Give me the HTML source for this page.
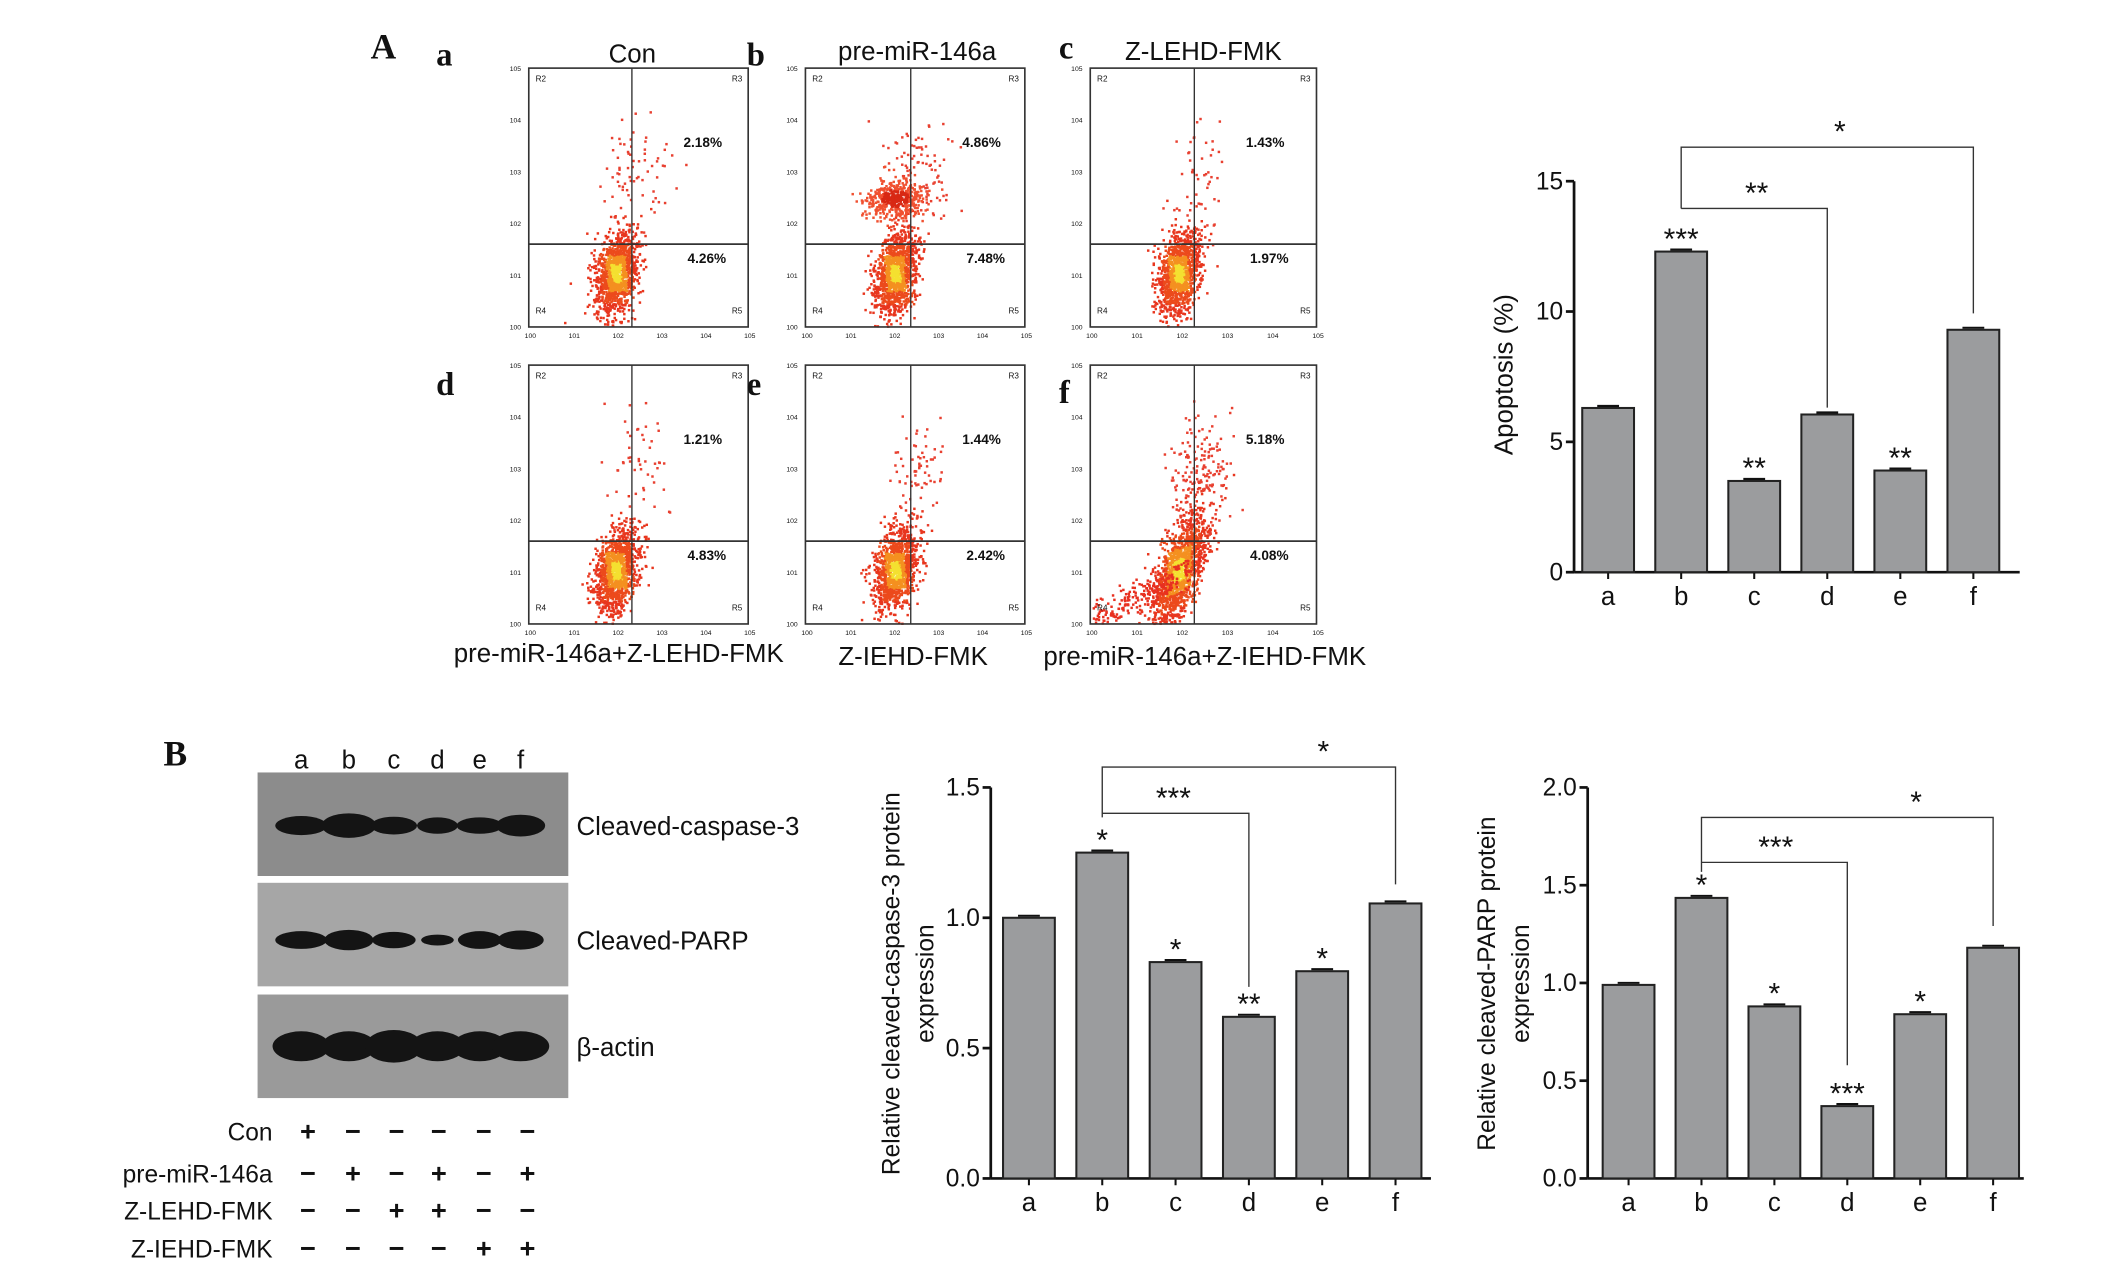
<!DOCTYPE html>
<html><head><meta charset="utf-8"><style>
html,body{margin:0;padding:0;background:#fff;}
svg{display:block;}
text{font-family:"Liberation Sans",sans-serif;fill:#111;}
.L{font-family:"Liberation Serif",serif;font-weight:bold;}
</style></head><body>
<svg id="fig" width="2126" height="1267" viewBox="0 0 1560 930" preserveAspectRatio="none" xmlns="http://www.w3.org/2000/svg">
<g id="flow"></g>
<g id="blot"></g>
<g id="chartA"></g>
<g id="chartB1"></g>
<g id="chartB2"></g>
</svg>
<script>
// ---- chart data ----
const categories = ['a','b','c','d','e','f'];
const apoptosisValues = [6.3, 12.3, 3.5, 6.05, 3.9, 9.3];
const apoptosisStars = ['', '***', '**', '', '**', ''];
const apoptosisTicks = [0, 5, 10, 15];
const caspaseValues = [1.0, 1.25, 0.83, 0.62, 0.795, 1.055];
const caspaseStars = ['', '*', '*', '**', '*', ''];
const caspaseTicks = ['0.0', '0.5', '1.0', '1.5'];
const parpValues = [0.99, 1.435, 0.88, 0.37, 0.84, 1.18];
const parpStars = ['', '*', '*', '***', '*', ''];
const parpTicks = ['0.0', '0.5', '1.0', '1.5', '2.0'];
const flowLabels = ['a','b','c','d','e','f'];
const flowTitles = ['Con','pre-miR-146a','Z-LEHD-FMK','pre-miR-146a+Z-LEHD-FMK','Z-IEHD-FMK','pre-miR-146a+Z-IEHD-FMK'];
const flowUpper = ['2.18%','4.86%','1.43%','1.21%','1.44%','5.18%'];
const flowLower = ['4.26%','7.48%','1.97%','4.83%','2.42%','4.08%'];

const NS='http://www.w3.org/2000/svg';
function mk(parent, tag, attrs, txt){
  const e=document.createElementNS(NS,tag);
  for(const k in attrs) e.setAttribute(k,attrs[k]);
  if(txt!==undefined) e.textContent=txt;
  parent.appendChild(e); return e;
}
const svg=document.getElementById('fig');
let t=mk(svg,'text',{x:272,y:43,'font-size':26,class:'L'},'A');


t=mk(svg,'text',{x:120,y:562,'font-size':26,class:'L'},'B');



// ---- flow panels ----
let seed=7;
function rnd(){seed=(seed*16807)%2147483647;return seed/2147483647;}
function gauss(){return Math.sqrt(-2*Math.log(rnd()+1e-9))*Math.cos(2*Math.PI*rnd());}
const flow=document.getElementById('flow');
const boxX=[388,591,800,388,591,800], boxY=[50,50,50,268,268,268];
const bw=[161,161,166,161,161,166];
const letterPos=[[320,48],[548,48],[777,43],[320,290],[548,290],[777,296]];
const titlePos=[[464,46],[673,44],[883,44],[454,486],[670,488],[884,488]];
const vFrac=[0.47,0.48,0.46,0.47,0.48,0.46];
const upperN=[70,90,50,50,70,160];
for(let i=0;i<6;i++){
  const g=mk(flow,'g',{});
  
  
  const x0=boxX[i], y0=boxY[i], w=bw[i], h=190;
  const vx=x0+w*vFrac[i], hy=y0+h*0.68;
  const cx=vx-12, cy=y0+h*0.79;
  const dots=mk(g,'g',{});
  
  
  function dot(px,py,col){ if(px>x0+1&&px<x0+w-1&&py>y0+1&&py<y0+h-1) mk(dots,'rect',{x:px,y:py,width:1.8,height:1.8,fill:col}); }
  const nMain=i==5?1400:1200;
  for(let k=0;k<nMain;k++){
    const a=gauss(), b=gauss();
    const sp=i==5?1.5:1;
    const px=cx+a*6*sp+b*5, py=cy-a*13*sp+b*8;
    const r=Math.abs(a)+Math.abs(b)*0.6;
    dot(px,py, r<0.5?'#f4e030':(r<1.0?'#f49020':(r<1.7?'#ec4a1c':'#e8361e')));
  }
  for(let k=0;k<upperN[i];k++){
    const a=gauss(), b=gauss();
    dot(vx+a*12+4, y0+h*0.4+b*20,'#e84030');
  }
  if(i==1){ for(let k=0;k<500;k++){const a=gauss(),b=gauss();const r=Math.hypot(a,b);dot(vx-12+a*10,y0+h*0.5+b*7,r<1?'#d82814':'#f05030');} }
  if(i==5){ for(let k=0;k<250;k++){const a=rnd(),b=gauss();dot(x0+a*w*0.5, y0+h-4-a*40+b*6,'#e83020');} }
  mk(g,'rect',{x:x0,y:y0,width:w,height:h,fill:'none',stroke:'#333','stroke-width':1.2});
  mk(g,'line',{x1:vx,y1:y0,x2:vx,y2:y0+h,stroke:'#333','stroke-width':1});
  mk(g,'line',{x1:x0,y1:hy,x2:x0+w,y2:hy,stroke:'#333','stroke-width':1.3});
  for(let k=0;k<6;k++){
    const yy=y0+h-k*h/5; mk(g,'text',{x:x0-14,y:yy+2,'font-size':5},'10'+k);
    const xx=x0+k*w/5; mk(g,'text',{x:xx-3,y:y0+h+8,'font-size':5},'10'+k);
  }
  mk(g,'text',{x:x0+5,y:y0+10,'font-size':6},'R2');
  mk(g,'text',{x:x0+w-12,y:y0+10,'font-size':6},'R3');
  mk(g,'text',{x:x0+5,y:y0+h-10,'font-size':6},'R4');
  mk(g,'text',{x:x0+w-12,y:y0+h-10,'font-size':6},'R5');
  t=mk(g,'text',{x:vx+52,y:y0+58,'font-size':10,'font-weight':'bold','text-anchor':'middle'},flowUpper[i]);
  
  
  t=mk(g,'text',{x:vx+55,y:y0+143,'font-size':10,'font-weight':'bold','text-anchor':'middle'},flowLower[i]);
  
  
  t=mk(flow,'text',{x:letterPos[i][0],y:letterPos[i][1],'font-size':24,class:'L'},flowLabels[i]);
  
  
  t=mk(flow,'text',{x:titlePos[i][0],y:titlePos[i][1],'font-size':19,'text-anchor':'middle'},flowTitles[i]);
  
  
}

// ---- bar chart helper ----
function barChart(id, cfg){
  const g=document.getElementById(id);
  const yS=v=>cfg.y0-(v/cfg.max)*(cfg.y0-cfg.yTop);
  const xS=i=>cfg.x0+i*cfg.step;
  const ax=mk(g,'g',{});
  
  
  mk(ax,'line',{x1:cfg.ax,y1:cfg.yTop,x2:cfg.ax,y2:cfg.y0,stroke:'#111','stroke-width':2});
  cfg.ticks.forEach(tk=>{
    const yy=yS(parseFloat(tk));
    mk(ax,'line',{x1:cfg.ax-6,y1:yy,x2:cfg.ax,y2:yy,stroke:'#111','stroke-width':2});
    const tt=mk(ax,'text',{x:cfg.ax-8,y:yy+6,'font-size':18,'text-anchor':'end'},tk);
    
    
  });
  const xa=mk(g,'g',{});
  
  
  mk(xa,'line',{x1:cfg.ax,y1:cfg.y0,x2:cfg.axEnd,y2:cfg.y0,stroke:'#111','stroke-width':2});
  categories.forEach((c,i)=>{
    mk(xa,'line',{x1:xS(i),y1:cfg.y0,x2:xS(i),y2:cfg.y0+5,stroke:'#111','stroke-width':1.5});
    const tt=mk(xa,'text',{x:xS(i),y:cfg.y0+24,'font-size':19,'text-anchor':'middle'},c);
    
    
  });
  cfg.values.forEach((v,i)=>{
    const r=mk(g,'rect',{x:xS(i)-cfg.bw/2,y:yS(v),width:cfg.bw,height:cfg.y0-yS(v),fill:'#9b9c9e',stroke:'#222','stroke-width':1.5});
    
    
    mk(g,'line',{x1:xS(i)-8,y1:yS(v)-1.5,x2:xS(i)+8,y2:yS(v)-1.5,stroke:'#111','stroke-width':1.5});
    if(cfg.stars[i]){
      const s=mk(g,'text',{x:xS(i),y:yS(v)-2,'font-size':22,'text-anchor':'middle'},cfg.stars[i]);
      
      
    }
  });
  cfg.brackets.forEach(b=>{
    const bg=mk(g,'g',{});
    
    
    const x1=xS(b.from), x2=xS(b.to);
    mk(bg,'polyline',{points:`${x1},${b.yEnd1} ${x1},${b.y} ${x2},${b.y} ${x2},${yS(cfg.values[b.to])-b.gap}`,fill:'none',stroke:'#333','stroke-width':1});
    mk(bg,'text',{x:b.lx,y:b.y-4,'font-size':22,'text-anchor':'middle'},b.label);
  });
  const lab=mk(g,'text',{transform:`translate(${cfg.labX},${cfg.labY}) rotate(-90)`,'font-size':cfg.labSize,'text-anchor':'middle'});
  
  
  cfg.label.forEach((ln,k)=>{mk(lab,'tspan',{x:0,dy:k==0?0:25},ln);});
}
barChart('chartA',{ax:1155,axEnd:1482,y0:420,yTop:133,max:15,x0:1180,step:53.6,bw:38,values:apoptosisValues,stars:apoptosisStars,
  ticks:apoptosisTicks.map(String),label:['Apoptosis (%)'],labX:1110,labY:275,labSize:19,
  brackets:[{from:1,to:5,y:108,yEnd1:153,gap:12,label:'*',lx:1350},{from:1,to:3,y:153,yEnd1:153,gap:5,label:'**',lx:1289}]});
barChart('chartB1',{ax:727,axEnd:1050,y0:865,yTop:578,max:1.5,x0:755,step:53.8,bw:38,values:caspaseValues,stars:caspaseStars,
  ticks:caspaseTicks,label:['Relative cleaved-caspase-3 protein','expression'],labX:660,labY:722,labSize:18,
  brackets:[{from:1,to:5,y:563,yEnd1:600,gap:14,label:'*',lx:971},{from:1,to:3,y:597,yEnd1:597,gap:22,label:'***',lx:861}]});
barChart('chartB2',{ax:1165,axEnd:1485,y0:865,yTop:578,max:2.0,x0:1195,step:53.5,bw:38,values:parpValues,stars:parpStars,
  ticks:parpTicks,label:['Relative cleaved-PARP protein','expression'],labX:1097,labY:722,labSize:18,
  brackets:[{from:1,to:5,y:600,yEnd1:640,gap:16,label:'*',lx:1406},{from:1,to:3,y:633,yEnd1:633,gap:30,label:'***',lx:1303}]});

// ---- western blot ----
const blot=document.getElementById('blot');
const laneX=[221,256,289,321,352,382];
const blotY=[567,648,730], blotBg=['#8c8c8c','#a6a6a6','#9a9a9a'];
const bandNames=['Cleaved-caspase-3','Cleaved-PARP','β-actin'];
const bandW=[[38,40,34,30,34,36],[38,36,32,24,32,34],[42,40,42,40,40,42]];
const bandH=[[14,18,13,12,12,16],[13,15,12,8,13,14],[22,22,24,22,22,22]];
const bandCy=[606,690,768];
categories.forEach((c,i)=>{
  t=mk(blot,'text',{x:laneX[i],y:564,'font-size':19,'text-anchor':'middle'},c);
  
  
});
for(let r=0;r<3;r++){
  const p=mk(blot,'rect',{x:189,y:blotY[r],width:228,height:76,fill:blotBg[r]});
  
  
  for(let i=0;i<6;i++){
    mk(blot,'ellipse',{cx:laneX[i],cy:bandCy[r],rx:bandW[r][i]/2,ry:bandH[r][i]/2,fill:'#141414'});
  }
  t=mk(blot,'text',{x:423,y:bandCy[r]+7,'font-size':19},bandNames[r]);
  
  
}
const rowNames=['Con','pre-miR-146a','Z-LEHD-FMK','Z-IEHD-FMK'];
const rowY=[837,868,895,923];
const signs=[['+','−','−','−','−','−'],['−','+','−','+','−','+'],['−','−','+','+','−','−'],['−','−','−','−','+','+']];
const signX=[226,259,291,322,355,387];
rowNames.forEach((n,r)=>{
  t=mk(blot,'text',{x:200,y:rowY[r],'font-size':18,'text-anchor':'end'},n);
  
  
  signs[r].forEach((s,i)=>{mk(blot,'text',{x:signX[i],y:rowY[r],'font-size':20,'font-weight':'bold','text-anchor':'middle'},s);});
});
</script>
</body></html>
